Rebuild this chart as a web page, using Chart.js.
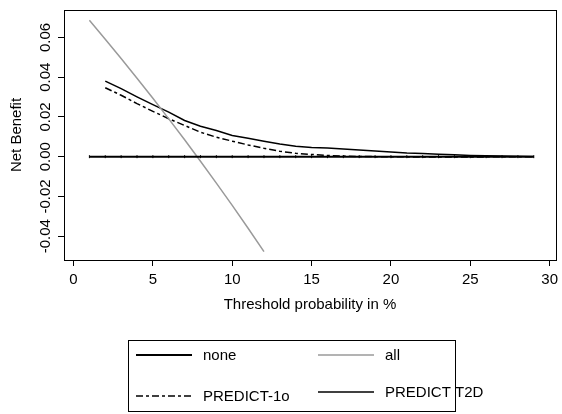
<!DOCTYPE html>
<html>
<head>
<meta charset="utf-8">
<script src="https://cdn.jsdelivr.net/npm/chart.js@4.4.1/dist/chart.umd.min.js"></script>
<style>
    html, body { margin: 0; padding: 0; background: #fff; }
    #wrap { width: 562px; height: 414px; }
</style>
</head>
<body>
<div id="wrap"><canvas id="nbChart" width="562" height="414"></canvas></div>
<script>
// nilai (threshold dalam %)
const thresholdNone = [1, 2, 3, 4, 5, 6, 7, 8, 9, 10, 11, 12, 13, 14, 15, 16, 17, 18, 19, 20, 21, 22, 23, 24, 25, 26, 27, 28, 29];
const noneValues = [0, 0, 0, 0, 0, 0, 0, 0, 0, 0, 0, 0, 0, 0, 0, 0, 0, 0, 0, 0, 0, 0, 0, 0, 0, 0, 0, 0, 0];

const thresholdAll = [1, 2, 3, 4, 5, 6, 7, 8, 9, 10, 11, 12];
const allValues = [0.0686, 0.0591, 0.0494, 0.0395, 0.0294, 0.0190, 0.0085, -0.0023, -0.0133, -0.0245, -0.0360, -0.0478];

const thresholdModel = [2, 3, 4, 5, 6, 7, 8, 9, 10, 11, 12, 13, 14, 15, 16, 17, 18, 19, 20, 21, 22, 23, 24, 25, 26, 27, 28, 29];
const predict1oValues = [0.0347, 0.0309, 0.0267, 0.0228, 0.0191, 0.0157, 0.0123, 0.0098, 0.0078, 0.0059, 0.0042, 0.0027, 0.0017, 0.0011,
    0.0006, 0.0003, 0.0001, 0.0000, -0.0001, -0.0001, -0.0002, -0.0002, -0.0002, -0.0002, -0.0001, -0.0001, -0.0001, 0.0000];
const predictT2DValues = [0.0380, 0.0342, 0.0301, 0.0262, 0.0224, 0.0182, 0.0153, 0.0132, 0.0107, 0.0093, 0.0078, 0.0064, 0.0052, 0.0046,
    0.0044, 0.0039, 0.0034, 0.0029, 0.0024, 0.0019, 0.0016, 0.0012, 0.0009, 0.0006, 0.0004, 0.0003, 0.0002, 0.0001];

const xTicks = [0, 5, 10, 15, 20, 25, 30];
const yTicks = [-0.04, -0.02, 0.00, 0.02, 0.04, 0.06];

const fontFamily = '"Liberation Sans", Arial, sans-serif';
const textColor = '#000000';
const grayColor = '#9a9a9a';

function toPoints(xs, ys) {
    return xs.map((x, i) => ({ x: x, y: ys[i] }));
}

// kotak legenda 2x2 seperti di R
const legendItems = [
    { label: 'none', color: '#000', width: 2, dash: [], lineX: 136, textX: 203, y: 355 },
    { label: 'all', color: grayColor, width: 1.5, dash: [], lineX: 318, textX: 385, y: 355 },
    { label: 'PREDICT-1o', color: '#000', width: 1.5, dash: [7, 3, 3, 3], lineX: 136, textX: 203, y: 396 },
    { label: 'PREDICT T2D', color: '#000', width: 1.5, dash: [], lineX: 318, textX: 385, y: 392 }
];

const framePlugin = {
    id: 'frame',
    afterDraw(chart) {
        const ctx = chart.ctx;
        const area = chart.chartArea;
        const yScale = chart.scales.y;
        ctx.save();

        // kotak plot
        ctx.strokeStyle = '#000';
        ctx.lineWidth = 1;
        ctx.strokeRect(Math.round(area.left) + 0.5, Math.round(area.top) + 0.5,
            Math.round(area.right - area.left), Math.round(area.bottom - area.top));

        // label sumbu y diputar
        ctx.fillStyle = textColor;
        ctx.font = '15px ' + fontFamily;
        ctx.textAlign = 'center';
        ctx.textBaseline = 'middle';
        yTicks.forEach(v => {
            const py = yScale.getPixelForValue(v);
            ctx.save();
            ctx.translate(46, py);
            ctx.rotate(-Math.PI / 2);
            ctx.fillText(v.toFixed(2), 0, 0);
            ctx.restore();
        });

        // judul sumbu
        ctx.save();
        ctx.translate(17, (area.top + area.bottom) / 2);
        ctx.rotate(-Math.PI / 2);
        ctx.fillText('Net Benefit', 0, 0);
        ctx.restore();
        ctx.fillText('Threshold probability in %', (area.left + area.right) / 2, 305);

        // legenda
        ctx.strokeRect(128.5, 340.5, 327, 71);
        legendItems.forEach(item => {
            ctx.beginPath();
            ctx.strokeStyle = item.color;
            ctx.lineWidth = item.width;
            ctx.setLineDash(item.dash);
            ctx.moveTo(item.lineX, item.y);
            ctx.lineTo(item.lineX + 56, item.y);
            ctx.stroke();
            ctx.setLineDash([]);
            ctx.textAlign = 'left';
            ctx.fillStyle = textColor;
            ctx.fillText(item.label, item.textX, item.y + 1);
        });
        ctx.restore();
    }
};

const ctxNb = document.getElementById('nbChart').getContext('2d');
const chartNb = new Chart(ctxNb, {
    type: 'line',
    data: {
        datasets: [
            {
                label: 'none',
                data: toPoints(thresholdNone, noneValues),
                borderColor: '#000',
                borderWidth: 2,
                pointStyle: 'line',
                rotation: 90,
                pointRadius: 1.5,
                pointBorderWidth: 1,
                pointBorderColor: '#000',
                fill: false
            },
            {
                label: 'all',
                data: toPoints(thresholdAll, allValues),
                borderColor: grayColor,
                borderWidth: 1.5,
                pointRadius: 0,
                fill: false
            },
            {
                label: 'PREDICT-1o',
                data: toPoints(thresholdModel, predict1oValues),
                borderColor: '#000',
                borderWidth: 1.5,
                borderDash: [7, 3, 3, 3],
                pointRadius: 0,
                fill: false
            },
            {
                label: 'PREDICT T2D',
                data: toPoints(thresholdModel, predictT2DValues),
                borderColor: '#000',
                borderWidth: 1.5,
                pointRadius: 0,
                fill: false
            }
        ]
    },
    options: {
        responsive: false,
        animation: false,
        layout: { padding: { top: 10, right: 6, left: 0, bottom: 0 } },
        scales: {
            x: {
                type: 'linear',
                min: -0.6,
                max: 30.4,
                afterBuildTicks(scale) {
                    scale.ticks = xTicks.map(v => ({ value: v }));
                },
                afterFit(scale) {
                    scale.height = 154;
                    scale.paddingLeft = 0;
                    scale.paddingRight = 0;
                },
                grid: { drawOnChartArea: false, drawTicks: true, tickLength: 6, color: '#000' },
                border: { display: true, color: '#000', width: 1 },
                ticks: {
                    color: textColor,
                    padding: 5,
                    maxRotation: 0,
                    font: { family: fontFamily, size: 15 }
                }
            },
            y: {
                min: -0.052,
                max: 0.0738,
                afterBuildTicks(scale) {
                    scale.ticks = yTicks.map(v => ({ value: v }));
                },
                afterFit(scale) {
                    scale.width = 64;
                },
                grid: { drawOnChartArea: false, drawTicks: true, tickLength: 6, color: '#000' },
                border: { display: true, color: '#000', width: 1 },
                ticks: { display: false }
            }
        },
        plugins: {
            legend: { display: false },
            tooltip: { enabled: false }
        }
    },
    plugins: [framePlugin]
});
</script>
</body>
</html>
